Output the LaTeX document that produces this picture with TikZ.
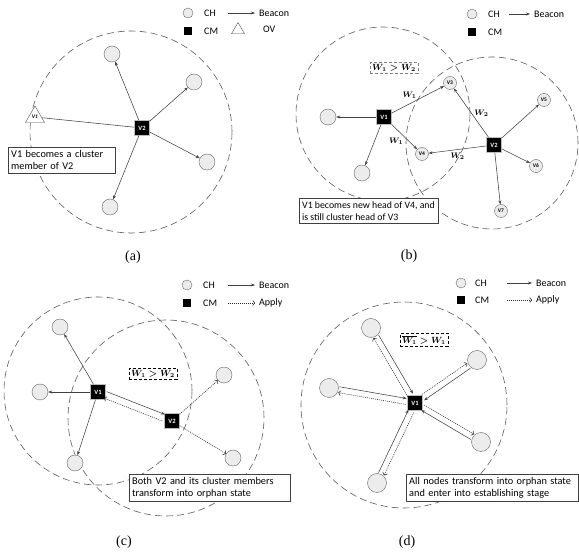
\documentclass[tikz,border=0pt]{standalone}
\usepackage{amsmath}
\usepackage{fontspec}
\setmainfont{Carlito}
\newfontfamily\capfont{Liberation Serif}
\usetikzlibrary{shapes.geometric,calc,arrows.meta}
\tikzset{
  chnode/.style={circle, draw=black!60, fill=gray!15, minimum size=16pt, inner sep=0pt},
  chsmall/.style={chnode, minimum size=13pt, font=\fontsize{5.5}{5.5}\selectfont\bfseries},
  cmnode/.style={rectangle, draw=gray!50, fill=black, text=white, minimum size=15pt, inner sep=0pt, font=\fontsize{6.5}{6.5}\selectfont\bfseries},
  ovnode/.style={regular polygon, regular polygon sides=3, draw=black!70, fill=white, minimum size=22pt, inner sep=0pt, font=\fontsize{5.5}{5.5}\selectfont\bfseries\itshape},
  rangecircle/.style={draw=black!65, line width=0.6pt, dash pattern=on 7pt off 4pt},
  beaconarrow/.style={-{Stealth[length=4pt,width=3pt]}, draw=black!75, line width=0.55pt},
  applyarrow/.style={-{To[length=2.5pt]}, draw=black!85, dash pattern=on 1pt off 1pt, line width=0.55pt},
  notebox/.style={draw=black!75, fill=white, align=left, anchor=north west, inner sep=3pt, font=\fontsize{10.3}{12.5}\selectfont},
  wbox/.style={draw, densely dashed, fill=white, inner sep=2pt, font=\fontsize{9}{9}\selectfont},
  lgdtext/.style={font=\fontsize{10}{10}\selectfont, anchor=west, inner sep=1pt},
  lgdch/.style={circle, draw=black!60, fill=gray!15, minimum size=10pt, inner sep=0pt},
  lgdcm/.style={rectangle, fill=black, minimum size=8pt, inner sep=0pt},
  sublabel/.style={font=\capfont\fontsize{14}{14}\selectfont},
  wlabel/.style={font=\fontsize{8}{8}\selectfont, inner sep=1pt}
}
\begin{document}
\begin{tikzpicture}[x=1pt,y=-1pt]
	\useasboundingbox (0,0) rectangle (579,553);
	
	% (a) ----------------------------------------------------------
	\draw[rangecircle] (131,132) circle (101pt);
	\node[cmnode] (aV2) at (142,128) {V2};
	\node[chnode] (a1) at (112,54) {};
	\node[chnode] (a2) at (194,82) {};
	\node[chnode] (a3) at (207,162) {};
	\node[chnode] (a4) at (110,207) {};
	\node[ovnode] (aV1) at (35,117) {V1};
	\foreach \n in {a1,a2,a3,a4}
		\draw[beaconarrow] (aV2) -- (\n);
	\draw[draw=black!75, line width=0.55pt] (aV2) -- (aV1);
	\node[notebox, text width=101pt] (anote) at (8,147) {V1 becomes a cluster\\member of V2};
	% legend
	\node[lgdch] (alch) at (188,13) {};
	\node[lgdtext] at (203,13) {CH};
	\node[lgdcm] (alcm) at (188,31) {};
	\node[lgdtext] at (203,31) {CM};
	\coordinate (alb1) at (228,13);
	\coordinate (alb2) at (255,13);
	\draw[beaconarrow] (alb1) -- (alb2);
	\node[lgdtext] at (258,13) {Beacon};
	\node[regular polygon, regular polygon sides=3, draw=black!70, minimum size=15pt, inner sep=0pt] (alov) at (238,30) {};
	\node[lgdtext] at (262,29) {OV};
	\node[sublabel] at (133,257) {(a)};
	
	% (b) ----------------------------------------------------------
	\draw[rangecircle] (383,114) circle (87pt);
	\draw[rangecircle] (492,143) circle (86pt);
	\node[cmnode] (bV1) at (384,117) {V1};
	\node[cmnode] (bV2) at (494,145) {V2};
	\node[chsmall] (bV3) at (450,83) {V3};
	\node[chsmall] (bV4) at (422,154) {V4};
	\node[chsmall] (bV5) at (544,100) {V5};
	\node[chsmall] (bV6) at (536,166) {V6};
	\node[chsmall] (bV7) at (501,211) {V7};
	\node[chnode] (b1) at (328,117) {};
	\node[chnode] (b2) at (362,173) {};
	\draw[beaconarrow] (bV1) -- (b1);
	\draw[beaconarrow] (bV1) -- (b2);
	\draw[beaconarrow] (bV1) -- node[wlabel, above left] {$\boldsymbol{W_1}$} (bV3);
	\draw[beaconarrow] (bV1) -- node[wlabel, below left] {$\boldsymbol{W_1}$} (bV4);
	\draw[beaconarrow] (bV2) -- node[wlabel, right=2pt] {$\boldsymbol{W_2}$} (bV3);
	\draw[beaconarrow] (bV2) -- node[wlabel, below=2pt] {$\boldsymbol{W_2}$} (bV4);
	\foreach \n in {bV5,bV6,bV7}
		\draw[beaconarrow] (bV2) -- (\n);
	\node[wbox, draw=gray] (bw) at (394,68) {$\boldsymbol{W_1 > W_2}$};
	\node[notebox, font=\fontsize{9.8}{12.5}\selectfont] (bnote) at (299,198) {V1 becomes new head of V4, and\\is still cluster head of V3};
	% legend
	\node[lgdch] (blch) at (472,14) {};
	\node[lgdtext] at (487,14) {CH};
	\node[lgdcm] (blcm) at (472,32) {};
	\node[lgdtext] at (487,32) {CM};
	\coordinate (blb1) at (509,14);
	\coordinate (blb2) at (530,14);
	\draw[beaconarrow] (blb1) -- (blb2);
	\node[lgdtext] at (533,14) {Beacon};
	\node[sublabel] at (409,256) {(b)};
	
	% (c) ----------------------------------------------------------
	\draw[rangecircle] (98,391) circle (94pt);
	\draw[rangecircle] (166,418) circle (98pt);
	\node[cmnode] (cV1) at (98,392) {V1};
	\node[cmnode] (cV2) at (172,421) {V2};
	\node[chnode] (c1) at (60,327) {};
	\node[chnode] (c2) at (40,392) {};
	\node[chnode] (c3) at (75,463) {};
	\node[chnode] (c4) at (224,375) {};
	\node[chnode] (c5) at (233,458) {};
	\foreach \n in {c1,c2,c3}
		\draw[beaconarrow] (cV1) -- (\n);
	\draw[beaconarrow, shorten <=8pt, shorten >=9pt] ($(cV1)!3.5pt!90:(cV2)$) -- ($(cV2)!3.5pt!-90:(cV1)$);
	\draw[applyarrow, shorten <=9pt, shorten >=8pt] ($(cV2)!3.5pt!90:(cV1)$) -- ($(cV1)!3.5pt!-90:(cV2)$);
	\draw[applyarrow] (cV2) -- (c4);
	\draw[applyarrow] (cV2) -- (c5);
	\node[wbox] (cw) at (153,374) {$\boldsymbol{W_1 > W_2}$};
	\node[notebox, text width=155pt] (cnote) at (129,474) {Both V2 and its cluster members\\transform into orphan state};
	% legend
	\node[lgdch] (clch) at (187,285) {};
	\node[lgdtext] at (202,285) {CH};
	\node[lgdcm] (clcm) at (187,303) {};
	\node[lgdtext] at (202,303) {CM};
	\coordinate (clb1) at (228,285);
	\coordinate (clb2) at (255,285);
	\draw[beaconarrow] (clb1) -- (clb2);
	\node[lgdtext] at (258,285) {Beacon};
	\coordinate (cla1) at (228,303);
	\coordinate (cla2) at (255,303);
	\draw[applyarrow] (cla1) -- (cla2);
	\node[lgdtext] at (258,303) {Apply};
	\node[sublabel] at (124,542) {(c)};
	
	% (d) ----------------------------------------------------------
	\draw[rangecircle] (404,405) circle (103pt);
	\node[cmnode] (dV1) at (415,403) {V1};
	\node[chnode, minimum size=19pt] (d1) at (371,328) {};
	\node[chnode, minimum size=19pt] (d2) at (329,388) {};
	\node[chnode, minimum size=19pt] (d3) at (477,360) {};
	\node[chnode, minimum size=19pt] (d4) at (481,442) {};
	\node[chnode, minimum size=19pt] (d5) at (377,483) {};
	\foreach \n in {d1,d2,d3,d4,d5}{
		\draw[beaconarrow, shorten <=10pt, shorten >=9pt] ($(\n)!3pt!90:(dV1)$) -- ($(dV1)!3pt!-90:(\n)$);
		\draw[applyarrow, shorten <=9pt, shorten >=10pt] ($(dV1)!3pt!90:(\n)$) -- ($(\n)!3pt!-90:(dV1)$);
	}
	\node[wbox] (dw) at (424,340) {$\boldsymbol{\overline{W_1} > W_1}$};
	\node[notebox, text width=166pt] (dnote) at (406,474) {All nodes transform into orphan state\\and enter into establishing stage};
	% legend
	\node[lgdch] (dlch) at (461,283) {};
	\node[lgdtext] at (474,283) {CH};
	\node[lgdcm] (dlcm) at (461,300) {};
	\node[lgdtext] at (474,300) {CM};
	\coordinate (dlb1) at (507,283);
	\coordinate (dlb2) at (532,283);
	\draw[beaconarrow] (dlb1) -- (dlb2);
	\node[lgdtext] at (535,283) {Beacon};
	\coordinate (dla1) at (507,300);
	\coordinate (dla2) at (532,300);
	\draw[applyarrow] (dla1) -- (dla2);
	\node[lgdtext] at (535,300) {Apply};
	\node[sublabel] at (407,542) {(d)};
\end{tikzpicture}
\end{document}
